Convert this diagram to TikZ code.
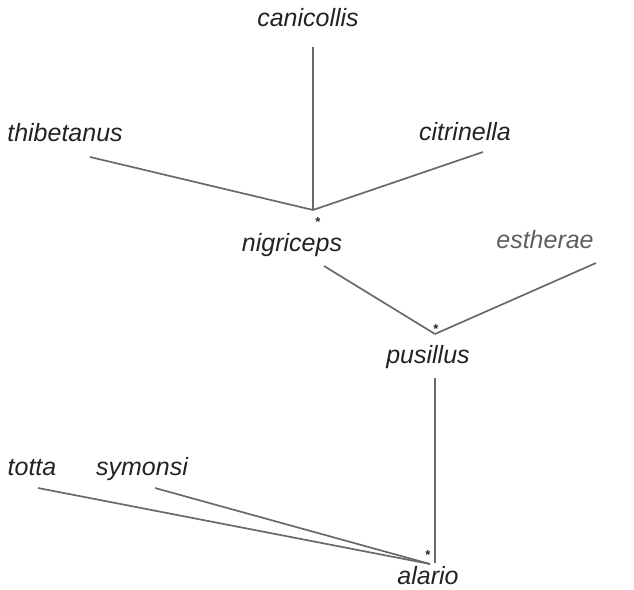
\documentclass[tikz,border=0pt]{standalone}
\usepackage{fontspec}
\setmainfont{Liberation Sans}
\definecolor{linegray}{RGB}{105,105,105}
\definecolor{txt}{RGB}{35,35,35}
\definecolor{lighttxt}{RGB}{95,95,95}
\begin{document}
\begin{tikzpicture}[x=1pt,y=-1pt,
  taxon/.style={anchor=base,inner sep=0pt,text height=18pt,text depth=5pt,font=\fontsize{25}{29}\selectfont\itshape,text=txt},
  star/.style={anchor=base,inner sep=0pt,text height=10pt,text depth=0pt,font=\fontsize{13}{13}\selectfont\bfseries,text=txt},
  branch/.style={draw=linegray,line width=1.7pt}]
\useasboundingbox (0,0) rectangle (634,589);
% labels
\node[taxon] (can) at (308,27) {canicollis};
\node[taxon] (thi) at (65,141) {thibetanus};
\node[taxon] (cit) at (465,140) {citrinella};
\node[taxon] (nig) at (292,251) {nigriceps};
\node[taxon,text=lighttxt] (est) at (545,248) {estherae};
\node[taxon] (pus) at (428,363) {pusillus};
\node[taxon] (tot) at (32,475) {totta};
\node[taxon] (sym) at (142,475) {symonsi};
\node[taxon] (ala) at (428,584) {alario};
% stars
\node[star] (s1) at (318,226) {*};
\node[star] (s2) at (436,333) {*};
\node[star] (s3) at (428,559) {*};
% line ends
\coordinate (jn) at (313,210);
\coordinate (jp) at (435,334);
\coordinate (ja) at (430,564);
\coordinate (canE) at (313,47);
\coordinate (thiE) at (90,157);
\coordinate (citE) at (483,152);
\coordinate (nigE) at (324,266);
\coordinate (estE) at (596,263);
\coordinate (pusE) at (435,378);
\coordinate (paE) at (435,563);
\coordinate (totE) at (38,488);
\coordinate (symE) at (155,488);
% branches
\draw[branch] (canE) -- (jn);
\draw[branch] (thiE) -- (jn);
\draw[branch] (citE) -- (jn);
\draw[branch] (nigE) -- (jp);
\draw[branch] (estE) -- (jp);
\draw[branch] (pusE) -- (paE);
\draw[branch] (totE) -- (ja);
\draw[branch] (symE) -- (ja);
\end{tikzpicture}
\end{document}
